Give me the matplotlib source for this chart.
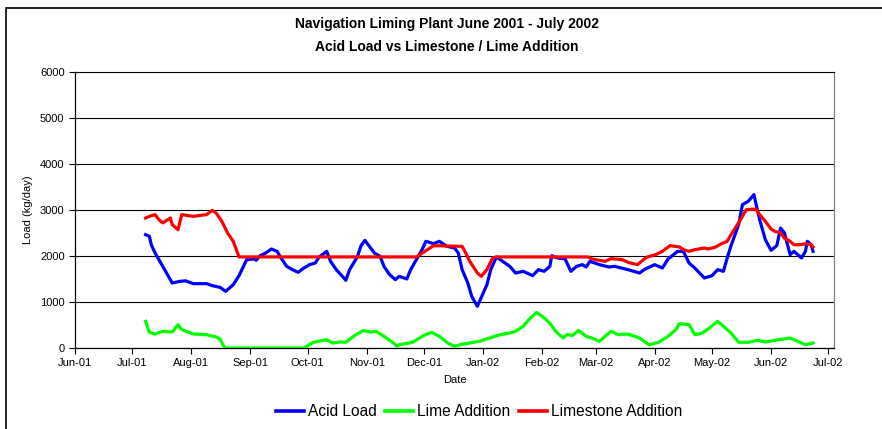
import matplotlib
matplotlib.use("Agg")
import matplotlib.pyplot as plt
import matplotlib.dates as mdates
import matplotlib.patches as mpatches
import pandas as pd

plt.rcParams['font.family'] = ['Liberation Sans', 'DejaVu Sans']

acid_dates = ["2001-07-08","2001-07-10","2001-07-11","2001-07-13","2001-07-16","2001-07-19","2001-07-22",
    "2001-07-26","2001-07-29","2001-08-02","2001-08-09","2001-08-12","2001-08-16","2001-08-19","2001-08-23",
    "2001-08-26","2001-08-30","2001-09-03","2001-09-04","2001-09-06","2001-09-09","2001-09-12","2001-09-15",
    "2001-09-17","2001-09-20","2001-09-23","2001-09-26","2001-09-29","2001-10-02","2001-10-05","2001-10-07",
    "2001-10-11","2001-10-13","2001-10-16","2001-10-20","2001-10-21","2001-10-23","2001-10-27","2001-10-29",
    "2001-10-31","2001-11-03","2001-11-05","2001-11-08","2001-11-10","2001-11-13","2001-11-16","2001-11-18",
    "2001-11-22","2001-11-24","2001-11-27","2001-11-30","2001-12-02","2001-12-06","2001-12-09","2001-12-13",
    "2001-12-17","2001-12-19","2001-12-21","2001-12-24","2001-12-26","2001-12-29","2002-01-03","2002-01-05",
    "2002-01-08","2002-01-10","2002-01-15","2002-01-18","2002-01-22","2002-01-27","2002-01-30","2002-02-02",
    "2002-02-05","2002-02-06","2002-02-09","2002-02-13","2002-02-16","2002-02-19","2002-02-22","2002-02-24",
    "2002-02-26","2002-03-03","2002-03-08","2002-03-11","2002-03-18","2002-03-24","2002-03-27","2002-04-01",
    "2002-04-05","2002-04-08","2002-04-13","2002-04-16","2002-04-19","2002-04-22","2002-04-27","2002-05-01",
    "2002-05-04","2002-05-07","2002-05-09","2002-05-11","2002-05-15","2002-05-17","2002-05-20","2002-05-23",
    "2002-05-24","2002-05-26","2002-05-29","2002-06-01","2002-06-04","2002-06-06","2002-06-08","2002-06-11",
    "2002-06-13","2002-06-15","2002-06-17","2002-06-19","2002-06-20","2002-06-22","2002-06-23"]
acid_load = [2464,2430,2246,2065,1848,1630,1413,1449,1460,1399,1399,1355,1319,1232,1377,
    1572,1920,1935,1906,2007,2065,2152,2101,1957,1775,1703,1645,1739,1812,1848,1978,
    2101,1884,1703,1522,1471,1703,1978,2225,2341,2174,2065,1993,1775,1594,1486,1558,
    1500,1703,1920,2138,2319,2268,2319,2210,2174,2065,1703,1413,1123,906,1377,1703,
    1978,1920,1775,1630,1667,1572,1703,1667,1775,2007,1957,1935,1667,1775,1812,1761,
    1884,1812,1761,1775,1703,1630,1717,1812,1739,1935,2101,2101,1848,1739,1522,1572,
    1703,1667,1957,2225,2681,3116,3188,3333,3152,2790,2355,2123,2225,2609,2500,2029,
    2101,2029,1957,2101,2319,2246,2101]

limestone_dates = ["2001-07-08","2001-07-10","2001-07-13","2001-07-15","2001-07-17","2001-07-21","2001-07-22",
    "2001-07-25","2001-07-27","2001-08-02","2001-08-09","2001-08-12","2001-08-14","2001-08-17","2001-08-20",
    "2001-08-23","2001-08-26","2001-11-27","2001-12-06","2001-12-21","2001-12-22","2001-12-25","2001-12-29",
    "2001-12-31","2002-01-03","2002-01-06","2002-01-08","2002-02-25","2002-02-27","2002-03-06","2002-03-09",
    "2002-03-15","2002-03-18","2002-03-23","2002-03-25","2002-03-28","2002-04-01","2002-04-05","2002-04-09",
    "2002-04-14","2002-04-16","2002-04-19","2002-04-22","2002-04-27","2002-04-29","2002-05-03","2002-05-06",
    "2002-05-09","2002-05-11","2002-05-16","2002-05-19","2002-05-24","2002-05-26","2002-05-29","2002-06-01",
    "2002-06-03","2002-06-06","2002-06-08","2002-06-11","2002-06-13","2002-06-16","2002-06-19","2002-06-22",
    "2002-06-23"]
limestone_addition = [2826,2862,2900,2790,2720,2826,2681,2572,2900,2862,2900,2993,2935,2754,2500,
    2319,1980,1980,2225,2210,2138,1884,1630,1558,1703,1957,1980,1980,1935,1884,1942,
    1920,1862,1812,1884,1978,2022,2101,2225,2196,2138,2101,2138,2174,2152,2196,2268,
    2319,2464,2790,3007,3022,2899,2754,2587,2536,2500,2391,2319,2246,2246,2268,2246,
    2196]

lime_dates = ["2001-07-08","2001-07-10","2001-07-13","2001-07-17","2001-07-22","2001-07-25","2001-07-27",
    "2001-08-02","2001-08-09","2001-08-14","2001-08-16","2001-08-18","2001-08-19","2001-09-29","2001-10-04",
    "2001-10-11","2001-10-14","2001-10-18","2001-10-21","2001-10-25","2001-10-30","2001-11-03","2001-11-06",
    "2001-11-10","2001-11-15","2001-11-17","2001-11-18","2001-11-25","2001-12-01","2001-12-05","2001-12-09",
    "2001-12-14","2001-12-17","2001-12-20","2001-12-25","2001-12-30","2002-01-06","2002-01-10","2002-01-15",
    "2002-01-18","2002-01-22","2002-01-25","2002-01-29","2002-02-01","2002-02-05","2002-02-08","2002-02-12",
    "2002-02-14","2002-02-17","2002-02-20","2002-02-24","2002-02-27","2002-03-03","2002-03-06","2002-03-09",
    "2002-03-13","2002-03-18","2002-03-24","2002-03-29","2002-04-03","2002-04-08","2002-04-12","2002-04-14",
    "2002-04-19","2002-04-22","2002-04-26","2002-04-29","2002-05-04","2002-05-07","2002-05-11","2002-05-15",
    "2002-05-20","2002-05-25","2002-05-29","2002-06-03","2002-06-11","2002-06-15","2002-06-19","2002-06-23"]
lime_addition = [580,341,304,362,348,507,399,304,290,239,200,36,0,0,123,
    181,109,130,123,254,377,348,362,254,109,36,72,123,275,341,254,
    94,36,72,109,145,239,290,326,362,471,616,775,688,543,362,217,
    290,275,384,254,217,145,254,362,290,304,217,72,123,254,399,529,
    507,290,326,413,580,471,326,123,123,167,130,167,217,145,72,109]

title_lines = ["Navigation Liming Plant June 2001 - July 2002", "Acid Load vs Limestone / Lime Addition"]
y_ticks = [0, 1000, 2000, 3000, 4000, 5000, 6000]

fig = plt.figure(figsize=(8.82, 4.29), dpi=100)
ax = fig.add_axes([75/882, 1-348/429, (834-75)/882, (348-72)/429])

lw = 2.3
ax.plot(pd.to_datetime(acid_dates), acid_load, color='#0000FF', lw=lw, label='Acid Load', zorder=3)
ax.plot(pd.to_datetime(lime_dates), lime_addition, color='#00FF00', lw=lw, label='Lime Addition', zorder=3)
ax.plot(pd.to_datetime(limestone_dates), limestone_addition, color='#FF0000', lw=lw, label='Limestone Addition', zorder=4)

ax.set_ylim(0, 6000)
ax.set_yticks(y_ticks)
ax.set_xlim(pd.Timestamp("2001-06-01"), pd.Timestamp("2002-07-04"))
ax.xaxis.set_major_locator(mdates.MonthLocator())
ax.xaxis.set_major_formatter(mdates.DateFormatter('%b-%y'))
ax.yaxis.grid(True, color='#000000', lw=0.8)
ax.set_axisbelow(True)
ax.tick_params(axis='both', labelsize=8, length=4, width=0.8, direction='out', color='black')
ax.tick_params(axis='x', pad=3)
for s in ['left', 'bottom']:
    ax.spines[s].set_color('black')
    ax.spines[s].set_linewidth(0.9)
ax.spines['top'].set_color('black')
ax.spines['top'].set_linewidth(0.8)
ax.spines['right'].set_color('#808080')
ax.spines['right'].set_linewidth(0.9)

ax.set_ylabel('Load (kg/day)', fontsize=8, labelpad=5)
ax.set_xlabel('Date', fontsize=8, labelpad=5)

fig.text(447/882, 1-24/429, title_lines[0], ha='center', va='center', fontsize=10, fontweight='bold')
fig.text(447/882, 1-47/429, title_lines[1], ha='center', va='center', fontsize=10, fontweight='bold')

leg = fig.legend(loc='center', bbox_to_anchor=(479/882, 1-412/429), ncol=3, frameon=False,
                 fontsize=11.2, handlelength=1.8, handletextpad=0.25, columnspacing=0.55,
                 borderpad=0, borderaxespad=0)
for h in leg.get_lines():
    h.set_linewidth(2.6)

rect = mpatches.Rectangle((6/882, -0.2), 1.2, 1.2 - 8/429, transform=fig.transFigure,
                          fill=False, edgecolor='black', lw=1.2, clip_on=False)
fig.add_artist(rect)

fig.savefig('out.png', dpi=100)
